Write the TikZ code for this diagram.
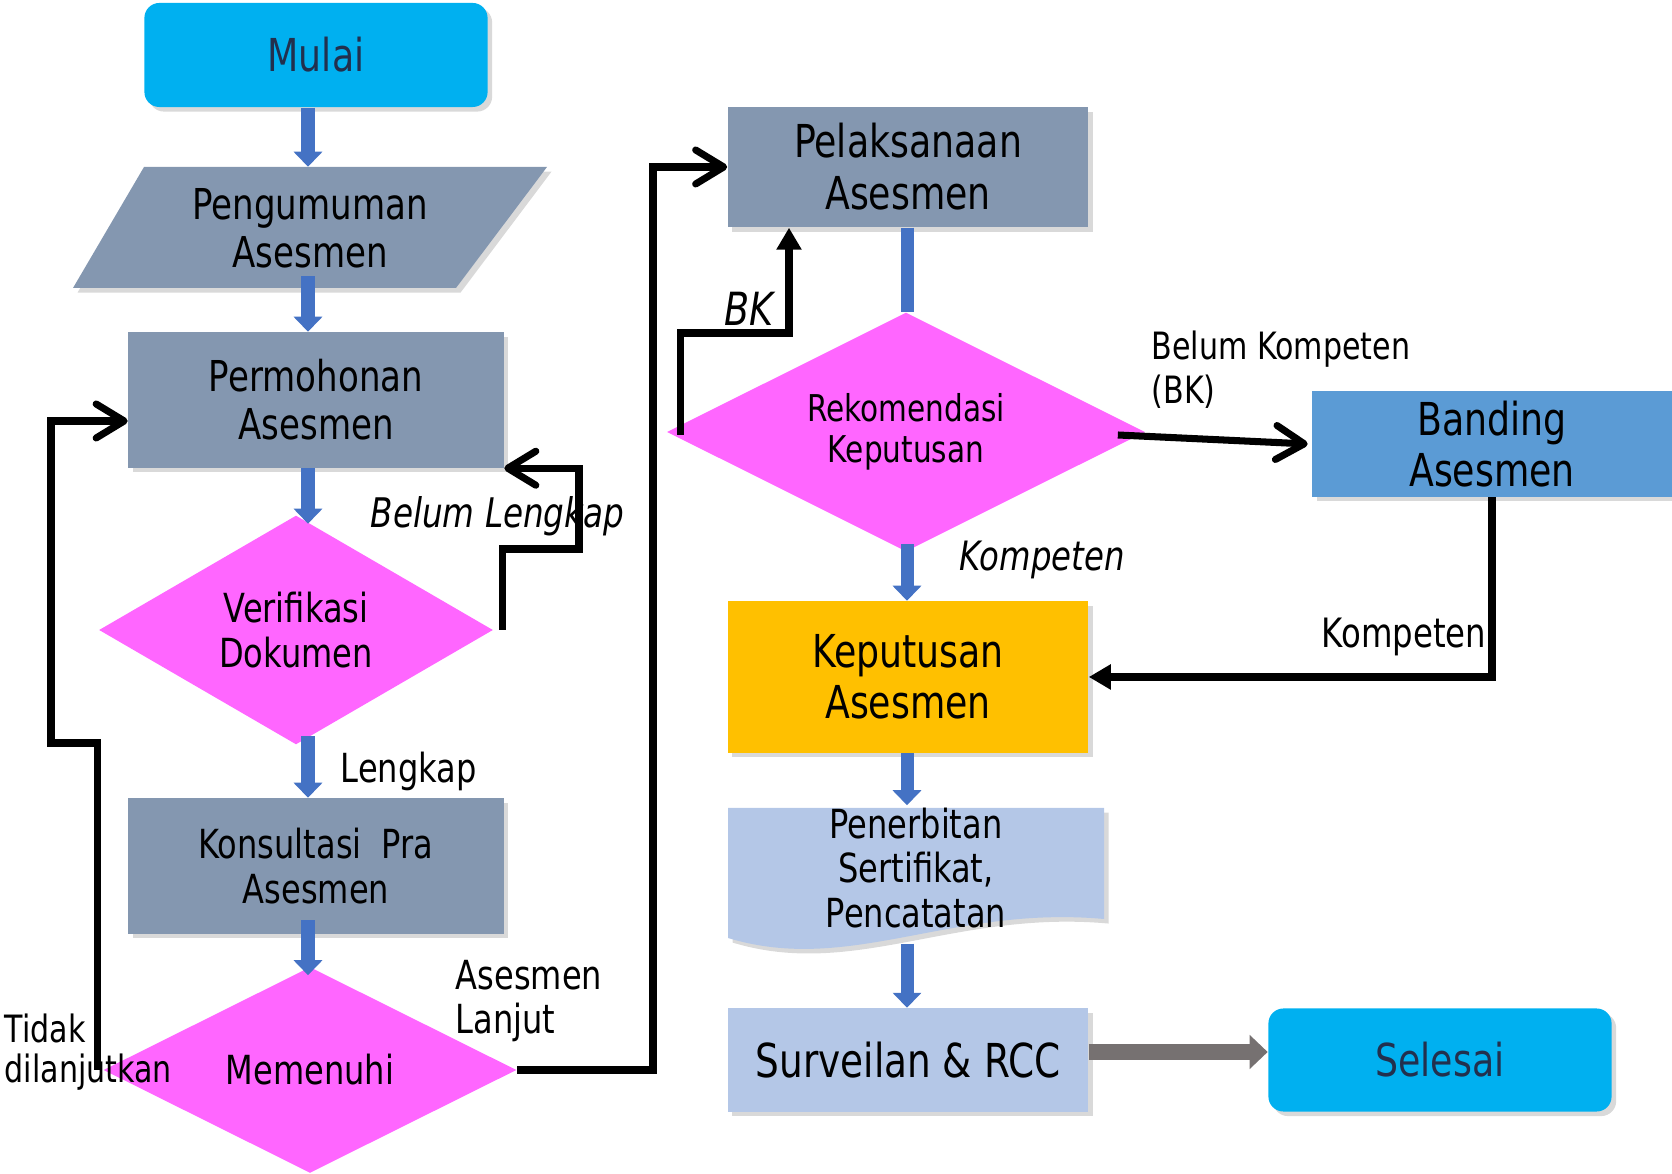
\documentclass[tikz,border=0pt]{standalone}
\usepackage{fontspec}
\setmainfont{DejaVu Sans}[FakeStretch=0.8]
\usepackage{tikz}
\usetikzlibrary{calc,arrows.meta,shapes.geometric,shadows}
\definecolor{startc}{HTML}{00B0F0}
\definecolor{startt}{HTML}{22304E}
\definecolor{slate}{HTML}{8497B0}
\definecolor{rose}{HTML}{FF66FF}
\definecolor{amber}{HTML}{FFC000}
\definecolor{sky}{HTML}{5B9BD5}
\definecolor{pale}{HTML}{B4C7E7}
\definecolor{flowc}{HTML}{4472C4}
\definecolor{stone}{HTML}{767171}
\newcommand{\fsz}[2]{\fontsize{#1pt}{#2pt}\selectfont}
\tikzset{
  lift/.style={drop shadow={shadow xshift=1.3pt, shadow yshift=-1.3pt, opacity=0.3}},
  term/.style={rectangle, rounded corners=0.15cm, fill=startc, text=startt, lift, font=\fsz{12.9}{14.7}},
  box/.style={rectangle, fill=slate, lift, align=center, inner sep=0pt},
  ask/.style={diamond, fill=rose, shape aspect=2, inner sep=0pt, align=center},
  flow/.style={draw=flowc, line width=3.7pt, -{Triangle[length=0.15cm,width=0.28cm]}},
  flowbar/.style={draw=flowc, line width=3.7pt},
  link/.style={draw=black, line width=2pt, -{Straight Barb[length=0.28cm,width=0.34cm,round]}},
  linkf/.style={draw=black, line width=2pt, -{Triangle[length=0.22cm,width=0.24cm]}},
  push/.style={draw=stone, line width=4.3pt, -{Triangle[length=0.18cm,width=0.33cm]}},
  lab/.style={align=left, anchor=west, inner sep=0pt},
}

\begin{document}
\begin{tikzpicture}[x=0.01cm, y=-0.01cm]
  \useasboundingbox (0,0) rectangle (1672,1174);
  \coordinate (colL) at (308,0);
  \coordinate (colR) at (907,0);
  \coordinate (bk) at (789,333);

  % left column
  \node[term, minimum width=3.43cm, minimum height=1.04cm] (mulai) at (316,55) {Mulai};
  \fill[slate, lift] (144,167) -- (547,167) -- (456,288) -- (73,288) -- cycle;
  \node[align=center, inner sep=0pt, minimum height=1.21cm, font=\fsz{12.1}{13.7}] (umum) at (310,228) {Pengumuman\\Asesmen};
  \node[box, minimum width=3.75cm, minimum height=1.35cm, font=\fsz{12.1}{13.7}] (mohon) at (316,400) {Permohonan\\Asesmen};
  \node[ask, minimum width=3.94cm, minimum height=2.29cm, font=\fsz{11.4}{12.7}] (verif) at (296,630) {Verifikasi\\Dokumen};
  \node[box, minimum width=3.75cm, minimum height=1.35cm, font=\fsz{11.4}{12.7}] (konsul) at (316,866) {Konsultasi~~Pra\\Asesmen};
  \node[ask, minimum width=4.13cm, minimum height=2.06cm, font=\fsz{11.4}{12.7}] (penuhi) at (310,1070) {Memenuhi};

  % right column
  \node[box, minimum width=3.60cm, minimum height=1.20cm, font=\fsz{12.9}{14.8}] (laksana) at (908,167) {Pelaksanaan\\Asesmen};
  \node[ask, minimum width=4.78cm, minimum height=2.39cm, font=\fsz{10.5}{11.5}] (rekom) at (906,432) {Rekomendasi\\Keputusan};
  \node[box, fill=sky, minimum width=3.59cm, minimum height=1.05cm, font=\fsz{12.9}{14.3}] (banding) at (1492,444) {Banding\\Asesmen};
  \node[box, fill=amber, minimum width=3.60cm, minimum height=1.51cm, font=\fsz{12.9}{14.6}] (putus) at (908,677) {Keputusan\\Asesmen};
  \fill[pale, lift] (728,808) -- (1104,808) -- (1104,919) .. controls (950,905) and (850,975) .. (728,938) -- cycle;
  \node[align=center, inner sep=0pt, minimum width=3.76cm, minimum height=1.24cm, font=\fsz{11.4}{12.7}] (terbit) at (916,868) {Penerbitan\\Sertifikat,\\Pencatatan};
  \node[box, fill=pale, minimum width=3.60cm, minimum height=1.03cm, font=\fsz{13.3}{15}] (survei) at (908,1060) {Surveilan \& RCC};
  \node[term, minimum width=3.43cm, minimum height=1.03cm] (selesai) at (1440,1060) {Selesai};

  % labels
  \node[lab, font=\fsz{11.4}{12.7}] (lengkap) at (340,771) {Lengkap};
  \node[lab, font=\itshape\fsz{11.6}{13}] (blengkap) at (370,516) {Belum Lengkap};
  \node[lab, font=\fsz{10.7}{11.5}] (tidak) at (4,1052) {Tidak\\dilanjutkan};
  \node[lab, font=\fsz{11.4}{12.7}] (lanjut) at (455,1001) {Asesmen\\Lanjut};
  \node[inner sep=0pt, font=\itshape\fsz{13}{14}] (bklab) at (749,309) {BK};
  \node[lab, font=\fsz{10.7}{12.6}] (bkomp) at (1151,370) {Belum Kompeten\\(BK)};
  \node[lab, font=\itshape\fsz{11.5}{12.7}] (komp1) at (959,560) {Kompeten};
  \node[lab, font=\fsz{11.5}{12.7}] (komp2) at (1321,637) {Kompeten};

  % main flow
  \draw[flow] (mulai.south -| colL) -- (umum.north -| colL);
  \draw[flow] ($(umum.south -| colL)+(0,-13)$) -- (mohon.north -| colL);
  \draw[flow] (mohon.south -| colL) -- ($(verif.north -| colL)+(0,9)$);
  \draw[flow] ($(verif.south -| colL)+(0,-9)$) -- (konsul.north -| colL);
  \draw[flow] ($(konsul.south -| colL)+(0,-14)$) -- ($(penuhi.north -| colL)+(0,9)$);
  \draw[flowbar] (laksana.south -| colR) -- (rekom.north -| colR);
  \draw[flow] ($(rekom.south -| colR)+(0,-8)$) -- (putus.north -| colR);
  \draw[flow] (putus.south -| colR) -- (terbit.north -| colR);
  \draw[flow] ($(terbit.south -| colR)+(0,13)$) -- (survei.north -| colR);
  \draw[push] ($(survei.east)+(0,-8)$) -- ($(selesai.west)+(0,-8)$);

  % loops
  \draw[link] ($(penuhi.west)+(-5,0)$) |- (51,743) |- ($(mohon.west)+(0,21)$);
  \draw[link] ($(verif.east)+(9,0)$) |- (579,549) |- (mohon.south east);
  \draw[link] (penuhi.east) -| (653,167) -- (laksana.west);
  \draw[linkf] ($(rekom.west)+(14,3)$) |- (bk) -- (bk |- laksana.south);
  \draw[link] ($(rekom.east)+(-28,3)$) -- ($(banding.west)+(-4,0)$);
  \draw[linkf] (banding.south) |- (putus.east);
\end{tikzpicture}
\end{document}
